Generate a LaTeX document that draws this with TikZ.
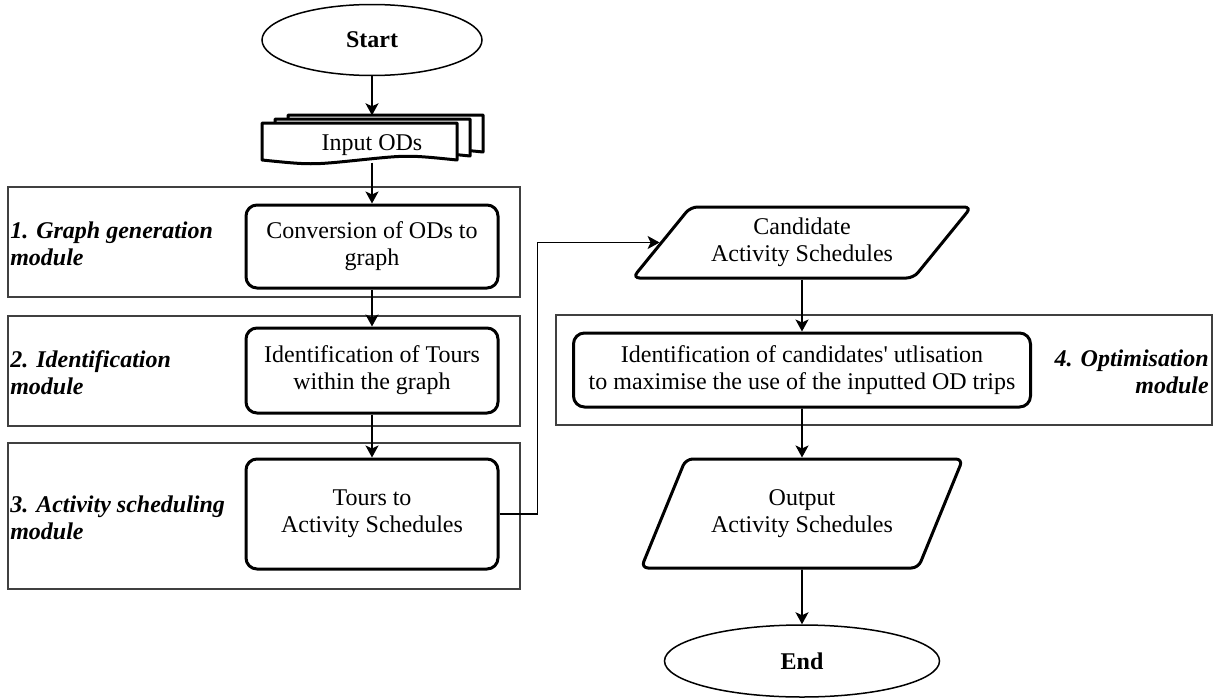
\documentclass[tikz,border=0pt]{standalone}
\usepackage{fontspec}
\setmainfont{Liberation Serif}
\usetikzlibrary{positioning,arrows.meta,shapes.geometric}

\begin{document}
\begin{tikzpicture}[
  x=1pt, y=-1pt,
  font=\fontsize{24}{27}\selectfont,
  terminal/.style={draw, ellipse, line width=1.5pt, inner sep=0pt, font=\fontsize{24}{27}\selectfont\bfseries},
  process/.style={draw, rounded corners=11pt, line width=3pt, align=center, minimum width=252pt, inner sep=0pt},
  iobox/.style={draw, trapezium, trapezium stretches=true, rounded corners=7pt, line width=3pt, align=center, inner sep=0pt},
  module/.style={draw=black!75, line width=1.8pt, inner sep=0pt},
  modlabel/.style={font=\fontsize{24}{27}\selectfont\bfseries\itshape, inner sep=1pt},
  doc/.style={draw, fill=white, line width=3pt, line join=round},
  arr/.style={-{Stealth[length=12pt, width=13pt, inset=3pt]}, line width=1.8pt}
]
\path[use as bounding box, fill=white] (0,0) rectangle (1224,699);

% Modules
\node[module, minimum width=512pt, minimum height=110pt] (mod1) at (264,242) {};
\node[module, minimum width=512pt, minimum height=110pt] (mod2) at (264,371) {};
\node[module, minimum width=512pt, minimum height=146pt] (mod3) at (264,516) {};
\node[module, minimum width=656pt, minimum height=110pt] (mod4) at (884,370) {};

\node[modlabel, anchor=west, align=left] (lab1) at ([xshift=2pt,yshift=-2pt]mod1.west) {1. Graph generation\\module};
\node[modlabel, anchor=west, align=left] (lab2) at ([xshift=2pt,yshift=-2pt]mod2.west) {2. Identification\\module};
\node[modlabel, anchor=west, align=left] (lab3) at ([xshift=2pt,yshift=-2pt]mod3.west) {3. Activity scheduling\\module};
\node[modlabel, anchor=east, align=right] (lab4) at ([xshift=-3pt,yshift=-2pt]mod4.east) {4. Optimisation\\module};

% Left column
\node[terminal, minimum width=220pt, minimum height=71pt] (start) at (372,40) {Start};

\foreach \k in {2,1,0}
  \draw[doc, shift={(13*\k,-4*\k)}] (262,123) -- (457,123) -- (457,160)
    .. controls (408,155) .. (359.5,160) .. controls (311,165) .. (262,160) -- cycle;
\node[minimum width=221pt, minimum height=47pt, inner sep=0pt] (inputods) at (372,139) {\raisebox{-11pt}[0pt][0pt]{Input ODs}};

\node[process, minimum height=83pt] (convert) at (372,246.5) {Conversion of ODs to\\graph};
\node[process, minimum height=85pt] (tourid) at (372,370.5) {Identification of Tours\\within the graph};
\node[process, minimum height=110pt] (toursched) at (372,514) {Tours to\\Activity Schedules};

% Right column
\node[iobox, minimum width=339pt, minimum height=71pt,
  trapezium left angle=46, trapezium right angle=134] (cand) at (802,242.5) {Candidate\\Activity Schedules};
\node[process, minimum width=457pt, minimum height=74pt] (optim) at (802,370) {Identification of candidates\textquotesingle{} utlisation\\to maximise the use of the inputted OD trips};
\node[iobox, minimum width=322pt, minimum height=109pt,
  trapezium left angle=54, trapezium right angle=126] (outsched) at (802,513.5) {Output\\Activity Schedules};
\node[terminal, minimum width=275pt, minimum height=72pt] (finish) at (802,661) {End};

% Connectors
\draw[arr] (start) -- (inputods);
\draw[arr] (inputods) -- (convert);
\draw[arr] (convert) -- (tourid);
\draw[arr] (tourid) -- (toursched);
\draw[arr] (toursched.east) -- ++(38,0) |- (cand.west);
\draw[arr] (cand) -- (optim);
\draw[arr] (optim) -- (outsched);
\draw[arr] (outsched) -- (finish);

\end{tikzpicture}
\end{document}
